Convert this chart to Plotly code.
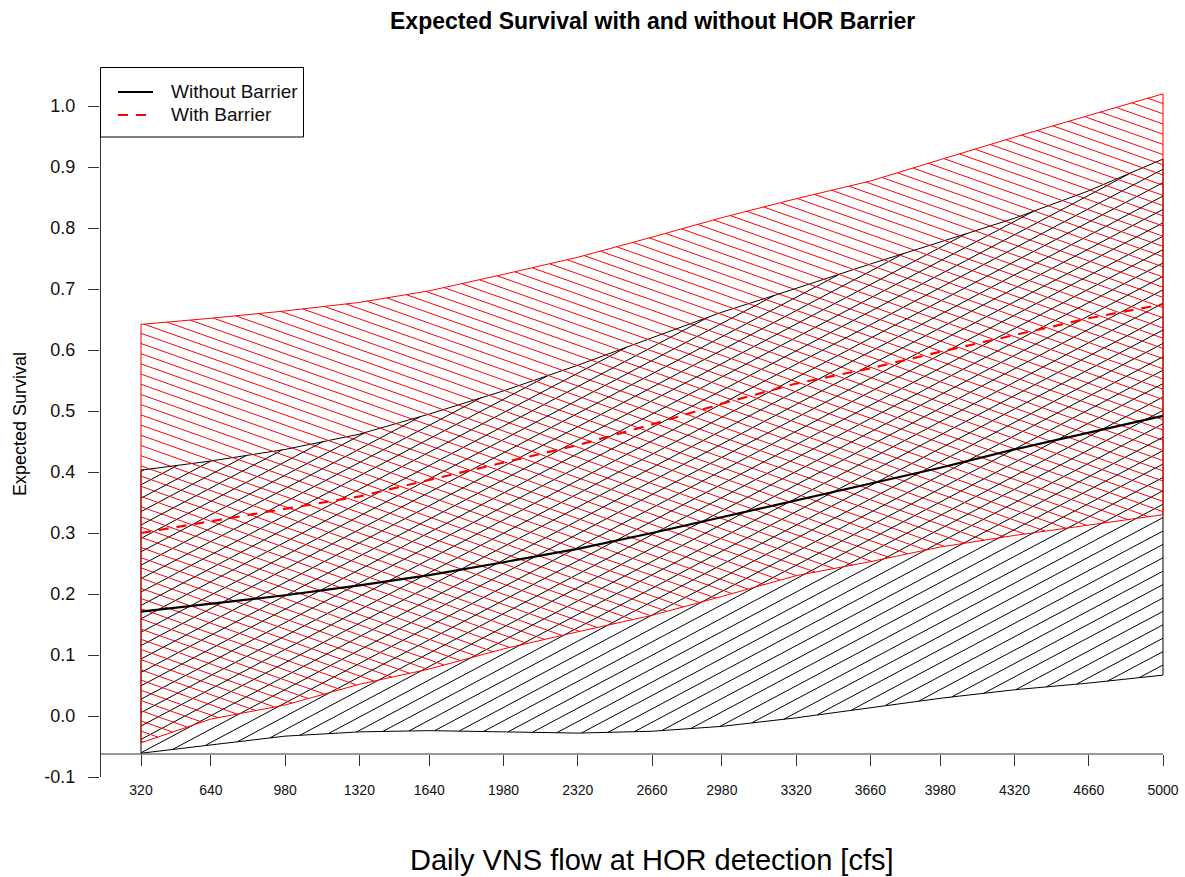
import numpy as np
import plotly.graph_objects as go

# ---------------- data ----------------
flow = [320, 640, 980, 1320, 1640, 1980, 2320, 2660, 2980, 3320, 3660, 3980, 4320, 4660, 5000]

without_mean = [0.171, 0.184, 0.198, 0.214, 0.231, 0.252, 0.274, 0.300, 0.326, 0.353, 0.380, 0.407, 0.437, 0.465, 0.492]
without_upper = [0.403, 0.418, 0.437, 0.462, 0.495, 0.533, 0.575, 0.620, 0.662, 0.701, 0.741, 0.777, 0.816, 0.861, 0.913]
without_lower = [-0.061, -0.047, -0.033, -0.026, -0.024, -0.026, -0.028, -0.025, -0.017, -0.003, 0.014, 0.029, 0.043, 0.054, 0.067]

with_mean = [0.300, 0.319, 0.339, 0.360, 0.387, 0.416, 0.444, 0.478, 0.512, 0.545, 0.570, 0.597, 0.625, 0.652, 0.675]
with_upper = [0.642, 0.652, 0.664, 0.678, 0.697, 0.724, 0.752, 0.785, 0.817, 0.848, 0.877, 0.912, 0.949, 0.985, 1.020]
with_lower = [-0.044, -0.005, 0.018, 0.052, 0.077, 0.110, 0.138, 0.165, 0.196, 0.230, 0.253, 0.277, 0.296, 0.313, 0.330]

x_tick_labels = [str(v) for v in flow]
y_ticks = [-0.1, 0.0, 0.1, 0.2, 0.3, 0.4, 0.5, 0.6, 0.7, 0.8, 0.9, 1.0]
y_tick_labels = ["-0.1", "0.0", "0.1", "0.2", "0.3", "0.4", "0.5", "0.6", "0.7", "0.8", "0.9", "1.0"]

series_names = ["Without Barrier", "With Barrier"]
title_text = "Expected Survival with and without HOR Barrier"
x_title = "Daily VNS flow at HOR detection [cfs]"
y_title = "Expected Survival"

# ---------------- geometry (pixels) ----------------
W, H = 1185, 877
L, R, T, B = 100, 1185, 67, 781          # plot region
XA_PX, XB_PX = 141.0, 1163.0             # pixel of first / last flow value
YA_PX, YB_PX = 106.0, 777.0              # pixel of y = 1.0 / y = -0.1
X_AXIS_PY = 754.0

FONT = "Liberation Sans, Arial, sans-serif"

x0v, x1v = flow[0], flow[-1]


def px_of_x(v):
    return XA_PX + (np.asarray(v, float) - x0v) * (XB_PX - XA_PX) / (x1v - x0v)


def x_of_px(p):
    return x0v + (np.asarray(p, float) - XA_PX) * (x1v - x0v) / (XB_PX - XA_PX)


def py_of_y(v):
    return YA_PX + (1.0 - np.asarray(v, float)) * (YB_PX - YA_PX) / 1.1


def y_of_py(p):
    return 1.0 - (np.asarray(p, float) - YA_PX) * 1.1 / (YB_PX - YA_PX)


def xp(px):
    return (px - L) / (R - L)


def yp(py):
    return (B - py) / (B - T)


def hatch(xs, lo, hi, angle_deg, vspacing, phase_px, phase_py):
    """Hatch lines clipped to band lo..hi, computed in pixel space.
    angle_deg > 0 : lines rising to the right."""
    xs_px = px_of_x(xs)
    lo_py = py_of_y(lo)
    hi_py = py_of_y(hi)
    fine = np.linspace(xs_px[0], xs_px[-1], 6000)
    lo_f = np.interp(fine, xs_px, lo_py)
    hi_f = np.interp(fine, xs_px, hi_py)
    slope = -np.tan(np.radians(angle_deg))
    rel = fine - fine[0]
    base = phase_py - slope * (phase_px - fine[0])
    cmin = np.min(hi_f - slope * rel)
    cmax = np.max(lo_f - slope * rel)
    k0 = int(np.floor((cmin - base) / vspacing)) - 1
    k1 = int(np.ceil((cmax - base) / vspacing)) + 1
    out_x, out_y = [], []
    for k in range(k0, k1 + 1):
        c = base + k * vspacing
        line = c + slope * rel
        inside = (line >= hi_f) & (line <= lo_f)
        if not inside.any():
            continue
        d = np.diff(np.concatenate([[0], inside.astype(int), [0]]))
        starts = np.flatnonzero(d == 1)
        ends = np.flatnonzero(d == -1) - 1
        for s, e in zip(starts, ends):
            if e <= s:
                continue
            out_x += [float(x_of_px(fine[s])), float(x_of_px(fine[e])), None]
            out_y += [float(y_of_py(line[s])), float(y_of_py(line[e])), None]
    return out_x, out_y


def outline(xs, lo, hi):
    px = list(xs) + list(xs[::-1]) + [xs[0]]
    py = list(lo) + list(hi[::-1]) + [lo[0]]
    return px, py


fig = go.Figure()

# black band (without barrier)
hx, hy = hatch(flow, without_lower, without_upper, 28.0, 13.4, 1163.0, 665.0)
fig.add_trace(go.Scatter(x=hx, y=hy, mode="lines", line=dict(color="black", width=1),
                         hoverinfo="skip", showlegend=False))
ox, oy = outline(flow, without_lower, without_upper)
fig.add_trace(go.Scatter(x=ox, y=oy, mode="lines", line=dict(color="black", width=1),
                         hoverinfo="skip", showlegend=False))

# red band (with barrier)
hx, hy = hatch(flow, with_lower, with_upper, -19.5, 10.2, 141.0, 333.3)
fig.add_trace(go.Scatter(x=hx, y=hy, mode="lines", line=dict(color="#FF0000", width=1),
                         hoverinfo="skip", showlegend=False))
ox, oy = outline(flow, with_lower, with_upper)
fig.add_trace(go.Scatter(x=ox, y=oy, mode="lines", line=dict(color="#FF0000", width=1),
                         hoverinfo="skip", showlegend=False))

# mean lines
fig.add_trace(go.Scatter(x=flow, y=without_mean, mode="lines", name=series_names[0],
                         line=dict(color="black", width=2.2), showlegend=False))
fig.add_trace(go.Scatter(x=flow, y=with_mean, mode="lines", name=series_names[1],
                         line=dict(color="#FF0000", width=2.2, dash="10px,8px"), showlegend=False))

axis_col = "#333333"
shapes = [
    # y axis line
    dict(type="line", xref="paper", yref="paper", x0=xp(100.5), x1=xp(100.5),
         y0=yp(YA_PX), y1=yp(YB_PX), line=dict(color=axis_col, width=1)),
    # x axis line
    dict(type="line", xref="paper", yref="paper", x0=xp(100.5), x1=xp(XB_PX),
         y0=yp(X_AXIS_PY), y1=yp(X_AXIS_PY), line=dict(color=axis_col, width=1)),
    # legend box
    dict(type="rect", xref="paper", yref="paper", x0=xp(100.5), x1=xp(303.5),
         y0=yp(67.5), y1=yp(137), line=dict(color="black", width=1), fillcolor="white"),
    dict(type="line", xref="paper", yref="paper", x0=xp(118), x1=xp(153),
         y0=yp(92), y1=yp(92), line=dict(color="black", width=2.2)),
    dict(type="line", xref="paper", yref="paper", x0=xp(118), x1=xp(153),
         y0=yp(115), y1=yp(115), line=dict(color="#FF0000", width=2.2, dash="10px,8px")),
]

annotations = [
    dict(text=series_names[0], xref="paper", yref="paper", x=xp(169), y=yp(92),
         xanchor="left", yanchor="middle", showarrow=False,
         font=dict(family=FONT, size=19, color="#111111")),
    dict(text=series_names[1], xref="paper", yref="paper", x=xp(169), y=yp(115),
         xanchor="left", yanchor="middle", showarrow=False,
         font=dict(family=FONT, size=19, color="#111111")),
    dict(text="<b>" + title_text + "</b>", xref="paper", yref="paper", x=xp(652), y=yp(21),
         xanchor="center", yanchor="middle", showarrow=False,
         font=dict(family=FONT, size=23, color="black")),
    dict(text=x_title, xref="paper", yref="paper", x=xp(652), y=yp(860),
         xanchor="center", yanchor="middle", showarrow=False,
         font=dict(family=FONT, size=29, color="black")),
    dict(text=y_title, xref="paper", yref="paper", x=xp(20), y=yp(424), textangle=-90,
         xanchor="center", yanchor="middle", showarrow=False,
         font=dict(family=FONT, size=18, color="black")),
]

fig.update_layout(
    width=W, height=H,
    margin=dict(l=L, r=W - R, t=T, b=H - B, pad=0),
    paper_bgcolor="white", plot_bgcolor="white",
    showlegend=False,
    shapes=shapes,
    annotations=annotations,
    xaxis=dict(range=[float(x_of_px(L)), float(x_of_px(R))], showgrid=False, zeroline=False,
               showline=False, tickmode="array", tickvals=flow, ticktext=x_tick_labels,
               ticks="outside", ticklen=11, tickwidth=1, tickcolor=axis_col,
               tickfont=dict(family=FONT, size=14, color="#111111"),
               anchor="free", position=yp(X_AXIS_PY), ticklabelstandoff=12),
    yaxis=dict(range=[float(y_of_py(B)), float(y_of_py(T))], showgrid=False, zeroline=False,
               showline=False, tickmode="array", tickvals=y_ticks, ticktext=y_tick_labels,
               ticks="outside", ticklen=11, tickwidth=1, tickcolor=axis_col,
               tickfont=dict(family=FONT, size=18, color="#111111"),
               ticklabelstandoff=9),
)

fig.write_html(
    "out.html",
    config={"displayModeBar": False},
    post_script="document.body.style.margin='0';document.body.style.padding='0';",
)
